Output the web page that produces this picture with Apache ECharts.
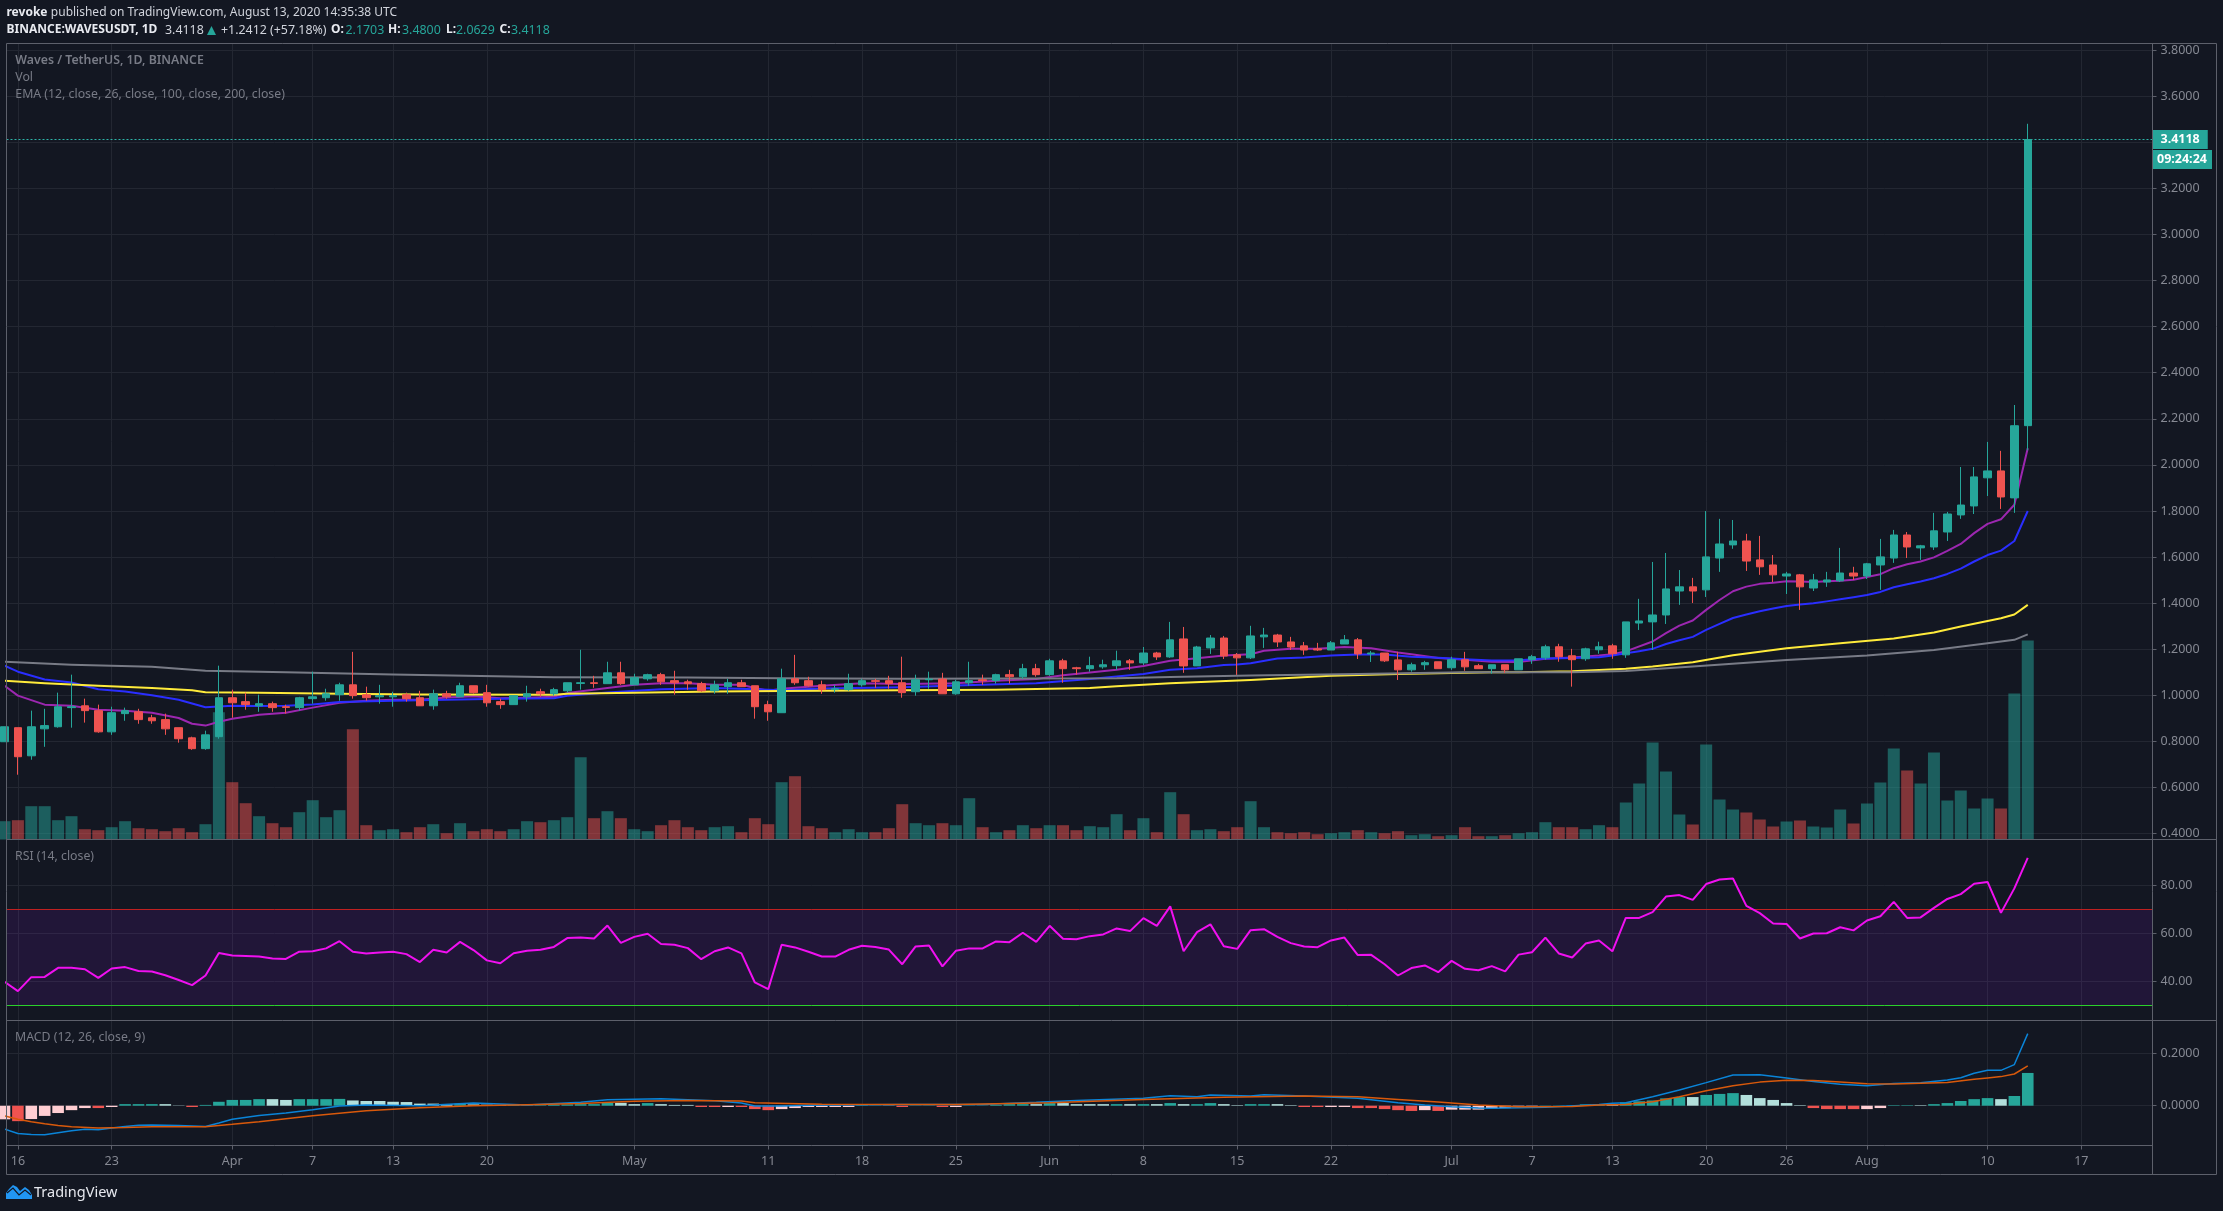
<!DOCTYPE html>
<html><head><meta charset="utf-8"><style>html,body{margin:0;padding:0;background:#131722}#c{width:2223px;height:1211px}</style>
<script src="https://cdn.jsdelivr.net/npm/echarts@6/dist/echarts.min.js"></script></head><body><div id="c"></div><script>
// Day numbers count from 2020-03-16 = 0; the first candle (-1) is 2020-03-15.
const firstDay = -1;
const tickDays = [0,7,16,22,28,35,46,56,63,70,77,84,91,98,107,113,119,126,132,138,147,154];
const tickLabels = ['16','23','Apr','7','13','20','May','11','18','25','Jun','8','15','22','Jul','7','13','20','26','Aug','10','17'];
const priceTicks = [0.4,0.6,0.8,1.0,1.2,1.4,1.6,1.8,2.0,2.2,2.4,2.6,2.8,3.0,3.2,3.4,3.6,3.8];
const rsiTicks = [40,60,80];
const macdTicks = [0,0.2];
const lastPrice = 3.4118;
const opens = [.799,.860,.738,.855,.864,.947,.955,.934,.842,.921,.929,.903,.895,.860,.816,.769,.821,.990,.973,.955,.964,.951,.947,.986,.990,1.003,1.046,1.003,.994,.994,1.003,.990,.955,1.007,.994,1.042,1.012,.973,.960,.994,1.016,1.007,
1.020,1.052,1.055,1.051,1.098,1.046,1.072,1.090,1.064,1.059,1.051,1.020,1.038,1.055,1.042,.960,.925,1.072,1.064,1.046,
1.025,1.025,1.046,1.064,1.064,1.055,1.016,1.068,1.071,1.007,1.055,1.068,1.064,1.090,1.081,1.116,1.090,1.150,1.120,1.116,
1.124,1.129,1.150,1.141,1.184,1.167,1.245,1.128,1.206,1.249,1.176,1.163,1.254,1.262,1.232,1.215,1.202,1.197,1.223,1.241,
1.180,1.184,1.154,1.111,1.133,1.146,1.120,1.155,1.129,1.116,1.133,1.111,1.155,1.163,1.211,1.172,1.159,1.198,1.215,1.176,
1.314,1.319,1.349,1.453,1.471,1.458,1.596,1.653,1.670,1.588,1.566,1.518,1.523,1.466,1.492,1.497,1.531,1.518,1.566,1.596,
1.696,1.640,1.644,1.709,1.783,1.822,1.944,1.974,1.857,2.1703];
const highs = [.864,.860,.934,.942,1.012,1.090,.986,.960,.951,.947,.942,.916,.921,.860,.821,.847,1.129,1.025,1.012,1.003,.973,.960,.994,1.103,1.029,1.055,1.189,1.038,1.046,1.016,1.012,1.020,1.025,1.020,1.055,1.042,1.046,.986,.999,1.042,1.029,1.033,
1.055,1.198,1.085,1.146,1.146,1.094,1.094,1.098,1.107,1.068,1.059,1.064,1.072,1.068,1.042,.977,1.116,1.176,1.081,1.064,
1.046,1.094,1.072,1.072,1.085,1.168,1.090,1.103,1.098,1.068,1.146,1.090,1.094,1.111,1.137,1.137,1.159,1.159,1.124,1.168,
1.155,1.194,1.158,1.210,1.189,1.319,1.297,1.215,1.262,1.258,1.184,1.302,1.293,1.267,1.254,1.232,1.228,1.236,1.262,1.249,
1.193,1.184,1.189,1.142,1.150,1.146,1.168,1.189,1.137,1.133,1.133,1.159,1.176,1.220,1.224,1.202,1.207,1.233,1.224,1.319,
1.419,1.579,1.618,1.544,1.510,1.800,1.766,1.761,1.701,1.692,1.609,1.536,1.527,1.527,1.536,1.640,1.558,1.575,1.679,1.718,
1.709,1.653,1.792,1.796,1.991,1.991,2.100,2.061,2.26,3.48];
const lows = [.799,.656,.721,.777,.860,.860,.882,.838,.829,.890,.877,.877,.829,.795,.764,.764,.812,.903,.938,.929,.929,.921,.934,.964,.977,.977,.986,.977,.964,.951,.973,.955,.938,.986,.994,1.007,.951,.942,.960,.973,.994,.999,
1.012,1.025,1.033,1.051,1.046,1.046,1.064,1.046,1.003,1.025,1.016,1.007,1.007,1.038,.899,.890,.925,1.046,1.038,1.007,
1.012,1.020,1.038,1.033,1.029,.990,.999,1.029,1.007,1.003,1.042,1.046,1.051,1.051,1.072,1.081,1.085,1.055,1.090,1.103,
1.116,1.111,1.111,1.132,1.154,1.163,1.098,1.128,1.180,1.158,1.089,1.158,1.206,1.210,1.197,1.176,1.193,1.197,1.223,1.158,
1.145,1.145,1.067,1.103,1.111,1.116,1.111,1.107,1.116,1.094,1.098,1.111,1.137,1.155,1.146,1.038,1.150,1.181,1.159,1.163,
1.284,1.197,1.310,1.393,1.401,1.427,1.536,1.636,1.540,1.523,1.492,1.440,1.371,1.453,1.471,1.492,1.501,1.505,1.458,1.575,
1.596,1.588,1.631,1.670,1.766,1.787,1.865,1.809,1.792,2.0629];
const closes = [.864,.734,.864,.869,.951,.951,.934,.842,.925,.934,.895,.890,.855,.812,.769,.829,.990,.968,.960,.964,.947,.948,.990,.994,1.007,1.046,.999,.990,.999,.999,.986,.955,1.007,.994,1.042,1.012,.968,.960,.999,1.007,1.007,1.025,
1.055,1.055,1.052,1.098,1.051,1.077,1.090,1.059,1.055,1.051,1.020,1.046,1.055,1.038,.951,.929,1.072,1.055,1.042,1.025,
1.029,1.051,1.064,1.061,1.051,1.012,1.068,1.071,1.007,1.059,1.064,1.064,1.090,1.081,1.116,1.090,1.150,1.116,1.116,1.129,
1.133,1.150,1.141,1.184,1.167,1.241,1.128,1.210,1.249,1.171,1.163,1.258,1.262,1.232,1.210,1.197,1.197,1.228,1.241,1.180,
1.184,1.150,1.111,1.133,1.142,1.116,1.155,1.124,1.116,1.133,1.111,1.159,1.168,1.211,1.168,1.155,1.202,1.211,1.181,1.319,
1.323,1.349,1.462,1.471,1.453,1.601,1.657,1.670,1.583,1.558,1.523,1.527,1.471,1.501,1.501,1.531,1.518,1.571,1.601,1.696,
1.644,1.649,1.714,1.787,1.826,1.948,1.974,1.861,2.170,3.4118];
const volumes = [1.83,1.93,3.33,3.33,1.93,2.33,1.03,.93,1.23,1.83,1.13,1.03,.83,1.13,.73,1.53,12.73,5.73,3.63,2.33,1.63,1.23,2.73,3.93,2.23,2.93,11.03,1.43,.93,1.03,.73,1.23,1.53,.63,1.63,.83,1.03,.83,1.03,1.83,1.73,1.93,
2.23,8.23,2.13,2.83,2.13,1.03,.83,1.43,1.93,1.23,.93,1.23,1.33,.73,2.13,1.53,5.73,6.33,1.33,1.13,
.73,1.03,.73,.73,1.13,3.53,1.63,1.43,1.63,1.43,4.13,1.23,.73,.93,1.43,1.13,1.43,1.43,.93,1.33,
1.23,2.53,.93,2.13,.73,4.73,2.53,.93,1.03,.83,1.23,3.83,1.23,.73,.63,.73,.53,.63,.73,.93,
.73,.63,.83,.43,.53,.33,.43,1.23,.33,.33,.43,.63,.73,1.73,1.23,1.23,1.03,1.43,1.23,3.7,
5.6,9.7,6.8,2.5,1.5,9.5,4.0,3.0,2.7,2.0,1.3,1.8,1.9,1.3,1.2,3.0,1.6,3.6,5.7,9.1,
6.9,5.6,8.7,3.9,4.9,3.1,4.1,3.1,14.6,19.9];
const rsiValues = [39.9,36.0,41.8,41.9,45.7,45.7,45.1,41.5,45.4,46.0,44.4,44.2,42.6,40.6,38.5,42.5,51.9,50.8,50.6,50.4,49.6,49.4,52.4,52.6,53.8,56.8,52.4,51.7,52.1,52.4,51.4,48.1,53.2,52.1,56.5,53.1,48.8,47.6,51.8,52.8,53.2,54.4,
58.1,58.3,57.9,63.3,56.1,58.6,59.9,55.6,55.3,53.9,49.3,52.6,54.2,51.7,39.6,36.8,55.3,54.2,52.4,50.4,
50.4,53.2,54.9,54.4,53.3,47.2,54.6,55.0,46.3,52.8,53.8,53.8,56.7,56.4,60.3,56.5,63.2,57.8,57.6,58.9,
59.6,62.1,61.0,66.4,63.2,71.3,52.6,60.6,63.8,54.7,53.6,61.4,61.8,58.6,56.0,54.6,54.3,57.1,58.3,51.0,
51.1,47.2,42.5,45.6,46.7,43.9,48.6,45.3,44.7,46.4,44.2,51.2,52.2,58.3,51.7,50.0,55.8,57.1,52.6,66.5,
66.5,68.9,75.4,76.0,74.0,80.6,82.5,82.9,71.5,68.5,64.2,64.0,57.9,60.0,60.1,62.6,61.3,65.4,67.2,73.2,
66.5,66.7,70.7,74.4,76.4,80.7,81.5,68.6,78.8,91.5];
const macdHist = [-.052,-.059,-.051,-.039,-.028,-.017,-.009,-.009,-.005,.006,.006,
.006,.006,.001,-.005,.003,.015,.022,.022,.025,.025,
.022,.025,.025,.025,.026,.020,.018,.018,.015,.014,
.008,.008,.006,.008,.005,.004,.003,.003,.002,.002,
.004,.005,.006,.006,.011,.011,.006,.010,.006,.003,
.003,-.005,-.005,-.005,-.005,-.013,-.017,-.013,-.009,-.005,
-.005,-.005,-.005,.002,.001,.001,-.005,.001,.001,-.005,
-.005,.001,.001,.003,.006,.006,.006,.010,.010,.006,
.006,.006,.006,.006,.006,.006,.010,.006,.006,.010,
.006,.002,.006,.006,.006,.002,-.005,-.005,-.005,-.005,
-.009,-.009,-.013,-.017,-.020,-.017,-.020,-.015,-.015,-.015,
-.010,-.009,-.005,-.005,.001,.001,.001,.005,.005,.005,
.013,.017,.020,.028,.033,.033,.041,.045,.048,.041,
.029,.022,.010,.002,-.009,-.013,-.013,-.013,-.013,-.009,
.002,.002,.002,.006,.010,.018,.025,.029,.025,.037,.125];
// T rising above zero, L falling above zero, R falling below zero, P rising below zero
const macdHistKinds = ('PRPPPPPRPTT'+'TLLRTTTTTL'+'LTTTTLLLLL'+'LLLTLLLTTT'+'TTTTTLLTLL'+'LRRPRRRPPP'+'PPPTTLRTTR'+'PTTTTTLTLL'+'LLTLTLTLTT'+'LLTTLLRRPP'+'RRRRRPRPPP'+'PPPPTTTTTL'+'TTTTTLTTTL'+'LLLLRRRRPP'+'TTLTTTTTLT'+'T').split('');
const ema12Days = [-1,0,2,4,6,8,10,12,13,14,15,16,18,20,22,24,26,28,30,32,34,36,38,40,41,44,46,48,50,52,54,55,56,57,60,63,66,70,73,76,78,82,84,86,88,90,92,93,95,97,99,101,103,104,106,108,110,112,114,116,118,119,120,122,123,124,125,126,127,128,129,130,131,132,133,134,135,136,137,138,139,140,141,142,143,144,145,146,147,148,149,150];
const ema12Values = [1.042,.999,.960,.955,.938,.934,.925,.902,.877,.869,.886,.899,.916,.925,.947,.968,.977,.981,.981,.991,.996,.988,.990,.994,1.010,1.032,1.046,1.053,1.053,1.046,1.046,1.032,1.020,1.029,1.042,1.053,1.049,1.053,1.064,1.071,1.087,1.111,1.128,1.150,1.161,1.173,1.179,1.194,1.202,1.202,1.210,1.205,1.186,1.179,1.162,1.155,1.146,1.145,1.159,1.165,1.173,1.179,1.191,1.234,1.270,1.303,1.325,1.371,1.414,1.452,1.472,1.484,1.489,1.495,1.494,1.492,1.495,1.498,1.502,1.514,1.526,1.552,1.569,1.581,1.599,1.627,1.657,1.704,1.744,1.764,1.827,2.072];
const ema26Days = [-1,0,2,4,6,8,10,12,14,16,18,20,22,24,28,32,36,40,41,44,48,52,55,57,60,66,70,76,80,82,84,86,88,90,91,92,94,96,98,100,102,104,106,108,110,112,114,116,118,119,120,121,122,123,124,125,126,127,128,129,130,131,132,133,134,135,136,137,138,139,140,141,142,143,144,145,146,147,148,149,150];
const ema26Values = [1.129,1.103,1.069,1.056,1.027,1.017,1.001,.981,.949,.955,.954,.955,.961,.971,.977,.981,.986,.988,.999,1.013,1.027,1.032,1.027,1.022,1.030,1.035,1.043,1.053,1.071,1.082,1.093,1.111,1.118,1.132,1.134,1.140,1.160,1.164,1.173,1.177,1.177,1.168,1.163,1.157,1.152,1.153,1.160,1.162,1.166,1.173,1.183,1.192,1.202,1.223,1.239,1.254,1.284,1.310,1.336,1.351,1.365,1.377,1.388,1.394,1.400,1.408,1.417,1.426,1.436,1.449,1.469,1.482,1.494,1.508,1.527,1.550,1.581,1.609,1.628,1.670,1.800];
const ema100Days = [-1,2,6,10,13,14,18,24,30,40,41,46,52,57,66,73,80,82,86,92,98,103,104,110,112,116,120,122,125,128,132,136,140,143,145,147,148,149,150];
const ema100Values = [1.064,1.053,1.042,1.032,1.022,1.014,1.012,1.007,1.004,1.003,1.007,1.012,1.017,1.019,1.022,1.025,1.032,1.040,1.053,1.067,1.085,1.093,1.094,1.100,1.101,1.105,1.116,1.125,1.144,1.174,1.205,1.226,1.247,1.273,1.299,1.323,1.335,1.351,1.393];
const ema200Days = [-1,4,10,14,20,28,40,50,57,66,82,86,92,100,108,116,120,125,132,138,143,147,149,150];
const ema200Values = [1.146,1.133,1.124,1.107,1.100,1.091,1.079,1.078,1.074,1.072,1.074,1.080,1.086,1.093,1.100,1.100,1.106,1.125,1.154,1.173,1.197,1.226,1.241,1.265];
const macdDays = [-1,0,1,2,3,4,5,6,7,8,9,10,12,14,15,16,18,20,22,24,26,30,34,38,42,44,48,52,54,55,57,60,66,72,76,79,84,86,88,89,92,93,96,100,103,105,107,109,110,114,118,119,120,122,124,126,128,130,132,134,136,138,140,142,144,145,146,147,148,149,150];
const macdValues = [-.089,-.106,-.110,-.111,-.103,-.096,-.090,-.092,-.085,-.079,-.075,-.074,-.076,-.079,-.066,-.052,-.037,-.028,-.015,-.001,.003,0,.010,.003,.013,.023,.027,.019,.010,-.001,-.001,.003,.005,.005,.013,.020,.028,.038,.034,.041,.037,.042,.037,.028,.011,.003,-.004,-.009,-.010,-.006,.005,.009,.011,.034,.060,.088,.117,.118,.106,.092,.082,.076,.085,.088,.098,.107,.124,.135,.135,.157,.275];
const signalDays = [-1,0,1,2,3,4,6,8,10,14,16,18,22,26,30,34,38,42,46,50,54,55,60,70,77,84,90,96,100,103,106,109,112,116,118,120,122,124,126,128,130,132,134,136,138,140,144,146,147,148,149,150];
const signalValues = [-.039,-.052,-.061,-.069,-.076,-.080,-.085,-.083,-.080,-.080,-.071,-.061,-.038,-.019,-.008,0,.004,.008,.017,.020,.018,.011,.006,.005,.011,.024,.032,.037,.034,.024,.014,.003,-.004,-.003,.003,.005,.015,.034,.057,.076,.090,.097,.096,.090,.084,.083,.089,.101,.106,.111,.121,.152];

const UP='#26a69a', DOWN='#ef5350', GRID='#232732', FRAME='#5d606b', AXISTXT='#868993', TEXT='#d1d4dc';
const FONT='"Noto Sans", sans-serif';
const L=6.5, R=2152.5, RIGHT=2216.5, T=43.5, B1=839.5, B2=1020.5, B3=1145.5, BOT=1174.5;
const dayOf=i=>firstDay+i;
const zip=(a,b)=>a.map((d,i)=>[d,b[i]]);
const kindColor={T:'#26a69a',L:'#b2dfdb',R:'#ef5350',P:'#ffcdd2'};

function xAxis(grid,showLabels){return {type:'value',gridIndex:grid,min:-0.851,max:159.31,position:'bottom',
  axisLine:{show:false,onZero:false},
  axisTick:{show:showLabels,length:4,customValues:tickDays,lineStyle:{color:FRAME}},
  axisLabel:{show:showLabels,customValues:tickDays,margin:9,fontFamily:FONT,fontSize:12.5,color:AXISTXT,
    formatter:v=>tickLabels[tickDays.indexOf(v)]},
  splitLine:{show:true,lineStyle:{color:GRID,width:1}}};}
function yAxis(grid,min,max,ticks,dec){return {type:'value',gridIndex:grid,position:'right',min,max,scale:true,
  axisLine:{show:false,onZero:false},
  axisTick:{show:true,length:4,customValues:ticks,lineStyle:{color:FRAME}},
  axisLabel:{customValues:ticks,margin:8,fontFamily:FONT,fontSize:12.5,color:AXISTXT,formatter:v=>v.toFixed(dec)},
  splitLine:{show:true,lineStyle:{color:GRID,width:1}}};}
function ema(name,days,vals,color,z){return {name,type:'line',xAxisIndex:0,yAxisIndex:0,data:zip(days,vals),showSymbol:false,symbol:'none',z,lineStyle:{color,width:2,join:'round'},silent:true,animation:false};}
function hline(x1,y1,x2,y2){return {type:'line',silent:true,z:50,shape:{x1,y1,x2,y2},style:{stroke:FRAME,lineWidth:1}};}
function txt(x,y,text,fill,size,weight){return {type:'text',x,y,silent:true,z:60,style:{text,fill,fontFamily:FONT,fontSize:size,fontWeight:weight||'normal',verticalAlign:'middle',align:'left'}};}

const chart=echarts.init(document.getElementById('c'),null,{renderer:'canvas',width:2223,height:1211});
const g=(top,h)=>({left:L,top,width:R-L,height:h,containLabel:false,show:false});
chart.setOption({
  animation:false,backgroundColor:'#131722',
  grid:[g(T,B1-T),g(B1,B2-B1),g(B2,B3-B2)],
  xAxis:[xAxis(0,false),xAxis(1,false),xAxis(2,true)],
  yAxis:[yAxis(0,0.3749,3.8283,priceTicks,4),
    {type:'value',gridIndex:0,min:0,max:79.6,show:false,splitLine:{show:false}},
    yAxis(1,23.75,99.167,rsiTicks,2),yAxis(2,-0.1519,0.3252,macdTicks,4)],
  series:[
    {name:'Vol',type:'bar',xAxisIndex:0,yAxisIndex:1,barWidth:12,z:1,silent:true,
      data:volumes.map((v,i)=>({value:[dayOf(i),v],itemStyle:{color:closes[i]>=opens[i]?'rgba(38,166,154,0.5)':'rgba(239,83,80,0.5)'}}))},
    ema('EMA 12',ema12Days,ema12Values,'#9c27b0',2),
    ema('EMA 26',ema26Days,ema26Values,'#2a2eff',3),
    ema('EMA 100',ema100Days,ema100Values,'#ffeb3b',4),
    ema('EMA 200',ema200Days,ema200Values,'#787b86',5),
    {name:'WAVESUSDT',type:'candlestick',xAxisIndex:0,yAxisIndex:0,barWidth:8,z:6,silent:true,
      data:opens.map((o,i)=>[dayOf(i),o,closes[i],lows[i],highs[i]]),
      itemStyle:{color:UP,color0:DOWN,borderColor:UP,borderColor0:DOWN,borderWidth:1},
      markLine:{silent:true,symbol:'none',animation:false,precision:4,
        lineStyle:{color:'#2fb5a8',type:[2,2],width:1,opacity:1},
        label:{show:true,position:'end',distance:0,formatter:lastPrice.toFixed(4),color:'#fff',backgroundColor:UP,fontFamily:FONT,fontSize:12.5,fontWeight:'bold',padding:[3,8,3,8]},
        data:[{yAxis:lastPrice}]}},
    {name:'RSI',type:'line',xAxisIndex:1,yAxisIndex:2,data:rsiValues.map((v,i)=>[dayOf(i),v]),symbol:'none',showSymbol:false,z:5,silent:true,
      lineStyle:{color:'#f010f0',width:2},
      markArea:{silent:true,itemStyle:{color:'rgba(153,21,255,0.1)'},data:[[{yAxis:30},{yAxis:70}]]},
      markLine:{silent:true,symbol:'none',label:{show:false},data:[
        {yAxis:70,lineStyle:{color:'#bf2020',type:'solid',width:1}},
        {yAxis:30,lineStyle:{color:'#2bd02b',type:'solid',width:1}}]}},
    {name:'Histogram',type:'bar',xAxisIndex:2,yAxisIndex:3,barWidth:11.6,z:2,silent:true,
      data:macdHist.map((v,i)=>({value:[dayOf(i),v],itemStyle:{color:kindColor[macdHistKinds[i]]}}))},
    {name:'MACD',type:'line',xAxisIndex:2,yAxisIndex:3,data:zip(macdDays,macdValues),symbol:'none',showSymbol:false,z:3,silent:true,lineStyle:{color:'#0a84d8',width:1.5}},
    {name:'Signal',type:'line',xAxisIndex:2,yAxisIndex:3,data:zip(signalDays,signalValues),symbol:'none',showSymbol:false,z:4,silent:true,lineStyle:{color:'#d9590b',width:1.5}}
  ],
  graphic:[
    {type:'rect',silent:true,z:50,shape:{x:L,y:T,width:RIGHT-L,height:BOT-T},style:{fill:'none',stroke:FRAME,lineWidth:1}},
    hline(R,T,R,BOT),hline(L,B1,RIGHT,B1),hline(L,B2,RIGHT,B2),hline(L,B3,R,B3),
    {type:'text',x:6.5,y:13,silent:true,z:60,style:{text:'{b|revoke} {n|published on TradingView.com, August 13, 2020 14:35:38 UTC}',verticalAlign:'middle',
      rich:{b:{fill:'#e8eaf0',fontFamily:FONT,fontSize:12,fontWeight:'bold'},n:{fill:TEXT,fontFamily:FONT,fontSize:12}}}},
    txt(6.5,30,'BINANCE:WAVESUSDT, 1D','#e8eaf0',12,'bold'),
    txt(165,30,'3.4118',TEXT,12.4),
    {type:'polygon',silent:true,z:60,shape:{points:[[207,35],[211.5,26],[216,35]]},style:{fill:UP}},
    txt(221,30,'+1.2412 (+57.18%)',TEXT,12.4),
    txt(331,30,'O:','#e8eaf0',12,'bold'), txt(345.5,30,'2.1703',UP,12.4),
    txt(388,30,'H:','#e8eaf0',12,'bold'), txt(402,30,'3.4800',UP,12.4),
    txt(446,30,'L:','#e8eaf0',12,'bold'), txt(456,30,'2.0629',UP,12.4),
    txt(499.5,30,'C:','#e8eaf0',12,'bold'), txt(511,30,'3.4118',UP,12.4),
    txt(15.3,60.7,'Waves / TetherUS, 1D, BINANCE','#787b86',12.3,'600'),
    txt(15.3,77.7,'Vol','#787b86',12.3),
    txt(15.3,94.7,'EMA (12, close, 26, close, 100, close, 200, close)','#787b86',12.3),
    txt(15,856.7,'RSI (14, close)','#787b86',12.3),
    txt(15,1037.7,'MACD (12, 26, close, 9)','#787b86',12.3),
    {type:'rect',silent:true,z:55,shape:{x:R+0.5,y:150,width:59,height:19},style:{fill:UP}},
    txt(R+4.5,159.5,'09:24:24','#fff',12.5,'bold'),
    txt(34,1192.5,'TradingView','#e6e8ee',14.5),
    {type:'polygon',silent:true,z:60,shape:{points:[[6,1199],[6,1193],[9,1189],[13,1185],[17,1187],[20,1191],[25,1187],[29,1190],[32,1195],[32,1199]]},style:{fill:'#2196f3'}},
    {type:'polyline',silent:true,z:61,shape:{points:[[7,1193],[13,1188],[19,1195],[25,1190],[31,1195]]},style:{stroke:'#131722',fill:'none',lineWidth:1.2}}
  ]
});
</script></body></html>
